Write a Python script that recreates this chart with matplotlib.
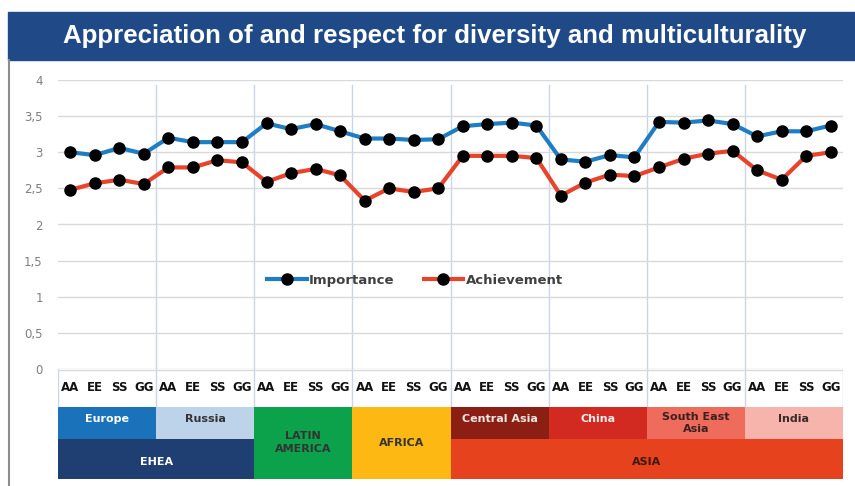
import numpy as np
import matplotlib
matplotlib.use("Agg")
import matplotlib.pyplot as plt
from matplotlib.patches import Rectangle
from matplotlib.lines import Line2D

# ---------------- data ----------------
title = "Appreciation of and respect for diversity and multiculturality"
tick_labels = ["AA", "EE", "SS", "GG"] * 8
importance = [3.00, 2.96, 3.06, 2.98, 3.20, 3.14, 3.14, 3.14,
              3.40, 3.32, 3.39, 3.29, 3.19, 3.19, 3.17, 3.18,
              3.36, 3.39, 3.41, 3.37, 2.90, 2.87, 2.96, 2.93,
              3.42, 3.41, 3.44, 3.39, 3.22, 3.29, 3.29, 3.37]
achievement = [2.48, 2.57, 2.62, 2.56, 2.79, 2.79, 2.89, 2.86,
               2.59, 2.71, 2.77, 2.68, 2.33, 2.50, 2.45, 2.50,
               2.95, 2.95, 2.95, 2.92, 2.40, 2.58, 2.69, 2.67,
               2.79, 2.91, 2.98, 3.02, 2.75, 2.62, 2.95, 3.00]
regions = ["Europe", "Russia", "LATIN\nAMERICA", "AFRICA",
           "Central Asia", "China", "South East\nAsia", "India"]
macro_regions = ["EHEA", "EHEA", None, None, "ASIA", "ASIA", "ASIA", "ASIA"]
series_names = ["Importance", "Achievement"]
y_ticks = [0, 0.5, 1, 1.5, 2, 2.5, 3, 3.5, 4]

# ---------------- styles ----------------
cell_colors = {
    "Europe": ("#1A72BB", "white"),
    "Russia": ("#BCD3EA", "#333333"),
    "LATIN\nAMERICA": ("#0BA24B", "#333333"),
    "AFRICA": ("#FDB813", "#333333"),
    "Central Asia": ("#8C1F14", "#F2E6E4"),
    "China": ("#D22920", "#F8EDEC"),
    "South East\nAsia": ("#EF6B5C", "#3A2020"),
    "India": ("#F7B4AC", "#3A2A2A"),
    "EHEA": ("#1F3F72", "white"),
    "ASIA": ("#E6421D", "#3A1A10"),
}
line_colors = ["#1F7EC3", "#E8432B"]

W, H = 855, 486
fig = plt.figure(figsize=(W / 100, H / 100), dpi=100)
fig.patch.set_facecolor("white")

def fx(px):
    return px / W

def fy(py):
    return 1 - py / H

# title band
fig.patches.append(Rectangle((fx(8), fy(60)), fx(855 - 8), (60 - 12) / H,
                             transform=fig.transFigure, color="#1F4A87", zorder=0))
fig.text(fx(435), fy(36), title, color="white", fontsize=18.6, fontweight="bold",
         family="Liberation Sans", ha="center", va="center")
# left border
fig.lines.append(Line2D([fx(8.5), fx(8.5)], [fy(486), fy(60)], transform=fig.transFigure,
                        color="#8C8C8C", lw=1.5))

x_left, x_right = 58, 843
y_top, y_zero = 80, 369
ax = fig.add_axes([fx(x_left), fy(y_zero), (x_right - x_left) / W, (y_zero - y_top) / H])
n = len(tick_labels)
x = np.arange(n)
ax.set_xlim(-0.5, n - 0.5)
ax.set_ylim(0, 4)
for s in ax.spines.values():
    s.set_visible(False)
ax.set_xticks([])
ax.set_yticks(y_ticks)
ax.set_yticklabels([f"{v:g}".replace(".", ",") for v in y_ticks])
ax.tick_params(axis="y", length=0, pad=11, labelsize=8.5, labelcolor="#7F7F7F")
ax.yaxis.grid(True, color="#D9D9D9", lw=1)
ax.set_axisbelow(True)

label_h = 37
for k in range(1, 8):
    ax.axvline(4 * k - 0.5, ymin=-label_h / (y_zero - y_top), ymax=(y_zero - 85) / (y_zero - y_top),
               color="#C8D6E8", lw=1, clip_on=False, zorder=0)

handles = []
for vals, name, c in zip([importance, achievement], series_names, line_colors):
    h, = ax.plot(x, vals, color=c, lw=3, marker="o", markersize=8,
                 markerfacecolor="black", markeredgecolor="black", label=name, zorder=3)
    handles.append(h)

leg = ax.legend(handles=handles, loc="center", bbox_to_anchor=((415 - x_left) / (x_right - x_left),
                (y_zero - 280) / (y_zero - y_top)), ncol=2, frameon=False, handlelength=3,
                columnspacing=2.2, handletextpad=0.2,
                prop={"weight": "bold", "size": 9.5})
for t in leg.get_texts():
    t.set_color("#404040")

# ---------------- table ----------------
y_bottom = 479
tax = fig.add_axes([fx(x_left), fy(y_bottom), (x_right - x_left) / W, (y_bottom - y_zero) / H])
tax.set_xlim(-0.5, n - 0.5)
tax.set_ylim(y_bottom - y_zero, 0)
tax.axis("off")

for i, lab in enumerate(tick_labels):
    tax.text(i, 18.5, lab, ha="center", va="center", fontsize=8.5, fontweight="bold",
             color="#111111")
for xe in [-0.5, n - 0.5]:
    tax.plot([xe, xe], [0, label_h], color="#C8D6E8", lw=1)
tax.plot([-0.5, n - 0.5], [0.5, 0.5], color="#D9D9D9", lw=1)

row1_top, row1_bot, row2_bot = 37.5, 70, 110
for g, (reg, mac) in enumerate(zip(regions, macro_regions)):
    x0 = 4 * g - 0.5
    fc, tc = cell_colors[reg]
    if mac is None:
        tax.add_patch(Rectangle((x0, row1_top), 4, row2_bot - row1_top, color=fc, lw=0))
        tax.text(x0 + 2, (row1_top + row2_bot) / 2, reg, ha="center", va="center",
                 fontsize=8, fontweight="bold", color=tc, linespacing=1.35)
    else:
        tax.add_patch(Rectangle((x0, row1_top), 4, row1_bot - row1_top, color=fc, lw=0))
        if "\n" in reg:
            tax.text(x0 + 2, row1_top + 5, reg, ha="center", va="top",
                     fontsize=8, fontweight="bold", color=tc, linespacing=1.35)
        else:
            tax.text(x0 + 2, row1_top + 12, reg, ha="center", va="center",
                     fontsize=8, fontweight="bold", color=tc)

# merged macro cells
g = 0
while g < len(regions):
    mac = macro_regions[g]
    if mac is None:
        g += 1
        continue
    start = g
    while g < len(regions) and macro_regions[g] == mac:
        g += 1
    fc, tc = cell_colors[mac]
    tax.add_patch(Rectangle((4 * start - 0.5, row1_bot), 4 * (g - start), row2_bot - row1_bot,
                            color=fc, lw=0))
    tax.text(4 * start - 0.5 + 2 * (g - start), row1_bot + 23, mac, ha="center", va="center",
             fontsize=8, fontweight="bold", color=tc)

fig.savefig("out.png", dpi=100)
